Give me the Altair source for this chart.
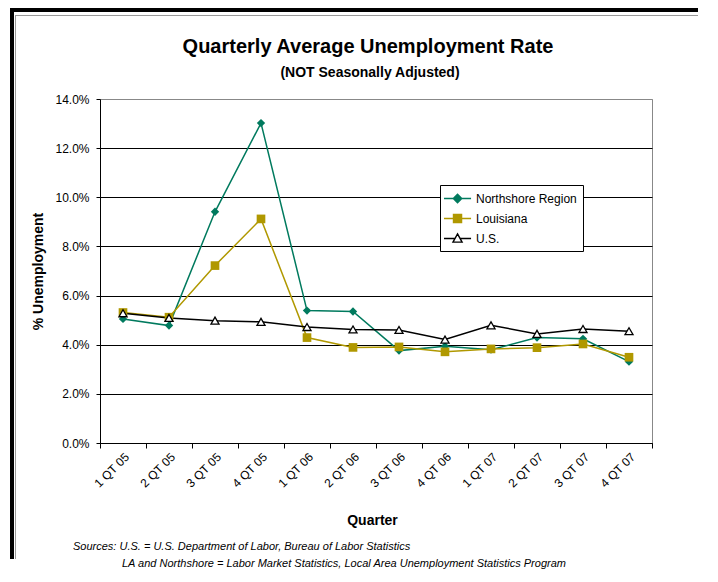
import altair as alt
import pandas as pd

quarters = ["1 QT 05", "2 QT 05", "3 QT 05", "4 QT 05", "1 QT 06", "2 QT 06",
            "3 QT 06", "4 QT 06", "1 QT 07", "2 QT 07", "3 QT 07", "4 QT 07"]
northshore = [5.05, 4.78, 9.41, 13.02, 5.39, 5.35, 3.76, 3.94, 3.80, 4.29, 4.24, 3.31]
louisiana = [5.31, 5.12, 7.22, 9.12, 4.29, 3.89, 3.91, 3.71, 3.83, 3.88, 4.03, 3.49]
us = [5.28, 5.09, 4.98, 4.93, 4.72, 4.62, 4.60, 4.21, 4.79, 4.44, 4.64, 4.55]
series_names = ["Northshore Region", "Louisiana", "U.S."]
y_ticks = [0, 2, 4, 6, 8, 10, 12, 14]

TEAL = "#007A5E"
GOLD = "#B09800"
FONT = "Liberation Sans"

rows = []
for name, vals in zip(series_names, [northshore, louisiana, us]):
    for q, v in zip(quarters, vals):
        rows.append({"Quarter": q, "value": v, "series": name})
df = pd.DataFrame(rows)

x_enc = alt.X("Quarter:O", sort=quarters,
              scale=alt.Scale(type="band", paddingInner=0, paddingOuter=0),
              axis=alt.Axis(title="Quarter", tickBand="extent", labelAngle=315,
                            labelFont=FONT, labelFontSize=12, labelColor="black",
                            tickSize=5, tickColor="black", domainColor="black",
                            labelPadding=3, grid=False,
                            titleFont=FONT, titleFontSize=14, titleFontWeight="bold",
                            titleColor="black", titleX=272, titleY=77,
                            titleBaseline="middle"))
y_enc = alt.Y("value:Q", scale=alt.Scale(domain=[0, 14], nice=False),
              axis=alt.Axis(title="% Unemployment", values=y_ticks,
                            labelExpr="format(datum.value, '.1f') + '%'",
                            labelFont=FONT, labelFontSize=12, labelColor="black",
                            tickSize=4, tickColor="black", domainColor="black",
                            labelPadding=7,
                            gridColor=alt.ConditionalAxisColor(
                                condition={"test": "datum.value == 14", "value": "#888888"},
                                value="black"),
                            gridWidth=1,
                            titleFont=FONT, titleFontSize=14, titleFontWeight="bold",
                            titleColor="black", titleX=-62, titleY=172,
                            titleAlign="center", titleBaseline="middle"))

base = alt.Chart(df)


def series_line(name, color):
    return base.transform_filter(alt.datum.series == name).mark_line(
        strokeWidth=1.5, color=color).encode(x=x_enc, y=y_enc)


l_ns = series_line("Northshore Region", TEAL)
l_la = series_line("Louisiana", GOLD)
l_us = series_line("U.S.", "black")

m_ns = base.transform_filter(alt.datum.series == "Northshore Region").mark_point(
    shape="diamond", filled=True, color=TEAL, size=70, opacity=1).encode(x=x_enc, y=y_enc)
m_la = base.transform_filter(alt.datum.series == "Louisiana").mark_point(
    shape="square", filled=True, color=GOLD, size=75, opacity=1).encode(x=x_enc, y=y_enc)
m_us = base.transform_filter(alt.datum.series == "U.S.").mark_point(
    shape="triangle-up", fill="white", stroke="black", strokeWidth=1.3, size=65,
    opacity=1).encode(x=x_enc, y=y_enc)

legend_paths = [
    "M-1.46,0H2.7M0.62,-0.65L1.27,0L0.62,0.65L-0.03,0Z",
    "M-1.46,0H2.7M0,-0.62H1.24V0.62H0Z",
    "M-1.46,0H0.23M1.01,0H2.7M0.62,-0.7L1.32,0.55H-0.08Z",
]
leg = alt.Legend(title=None, orient="none", legendX=340, legendY=86,
                 labelFont=FONT, labelFontSize=12, labelColor="black",
                 strokeColor="black", fillColor="white", padding=6,
                 rowPadding=5, labelOffset=15, symbolSize=169,
                 symbolStrokeWidth=1.4)
legend_layer = alt.Chart(pd.DataFrame({"series": series_names})).mark_point(
    filled=True, size=100, opacity=1).encode(
    x=alt.value(-500), y=alt.value(-500),
    shape=alt.Shape("series:N", scale=alt.Scale(domain=series_names, range=legend_paths),
                    legend=leg),
    fill=alt.Fill("series:N", scale=alt.Scale(domain=series_names,
                                              range=[TEAL, GOLD, "white"]), legend=leg),
    stroke=alt.Stroke("series:N", scale=alt.Scale(domain=series_names,
                                                  range=[TEAL, GOLD, "black"]), legend=leg),
)

one = alt.Chart(pd.DataFrame({"a": [0]}))


def frame_rect(x, x2, y, y2, color):
    return one.mark_rect(color=color).encode(
        x=alt.value(x), x2=alt.value(x2), y=alt.value(y), y2=alt.value(y2))


frame = [
    frame_rect(-90, -86, -91, 460, "black"),
    frame_rect(-90, 598, -91, -87, "black"),
    frame_rect(-85, -84, -84, 460, "#999999"),
    frame_rect(-85, 598, -84, -83, "#999999"),
]

title_txt = one.mark_text(align="center", baseline="alphabetic", font=FONT, fontSize=20,
                          fontWeight="bold", color="black").encode(
    x=alt.value(268), y=alt.value(-46),
    text=alt.value("Quarterly Average Unemployment Rate"))
subtitle_txt = one.mark_text(align="center", baseline="alphabetic", font=FONT, fontSize=14,
                             fontWeight="bold", color="black").encode(
    x=alt.value(270), y=alt.value(-22),
    text=alt.value("(NOT Seasonally Adjusted)"))

src1 = one.mark_text(align="left", baseline="middle", font=FONT, fontSize=11,
                     fontStyle="italic", color="black").encode(
    x=alt.value(-27), y=alt.value(448),
    text=alt.value("Sources: U.S. = U.S. Department of Labor, Bureau of Labor Statistics"))
src2 = one.mark_text(align="left", baseline="middle", font=FONT, fontSize=11,
                     fontStyle="italic", color="black").encode(
    x=alt.value(22), y=alt.value(465),
    text=alt.value("LA and Northshore = Labor Market Statistics, Local Area Unemployment Statistics Program"))

chart = alt.layer(
    *frame, title_txt, subtitle_txt,
    l_ns, l_la, l_us, m_ns, m_la, m_us, legend_layer, src1, src2,
).properties(
    width=552, height=344,
    padding={"left": 92, "top": 91, "right": 58, "bottom": 129},
    autosize="none",
    background="white",
).configure_view(
    stroke="#888888", strokeWidth=1
)

chart.save("out.html", embed_options={"renderer": "svg", "actions": False})
